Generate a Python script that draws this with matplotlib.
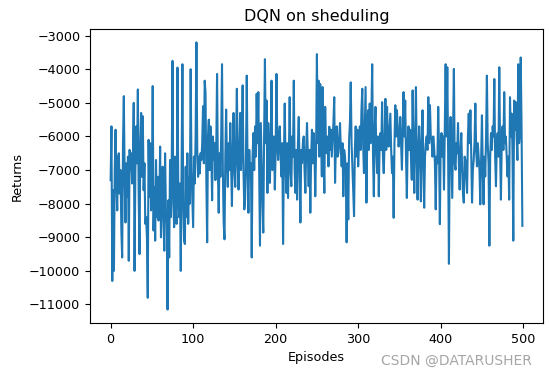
import numpy as np
import matplotlib
matplotlib.use('Agg')
import matplotlib.pyplot as plt

# retornos por episódio (em centenas)
returns_000_099 = [
    -73, -57, -103, -76, -100, -70, -58, -74, -82, -66,
    -65, -77, -70, -88, -96, -62, -48, -72, -85.6, -68,
    -78, -66, -97, -64, -70, -65, -74, -66, -50, -100,
    -70, -57, -68, -46, -77, -95, -62, -53, -72, -54,
    -76, -68, -86, -84, -90, -108, -61, -78, -62, -82,
    -76, -45, -88, -75, -91, -67, -84, -72, -85, -80,
    -63, -90, -78, -69, -84, -94, -65, -82, -86, -111.5,
    -79, -96, -67, -84, -70, -37.5, -80, -87, -66, -82,
    -86, -39.5, -76, -84, -74, -100, -70, -38.5, -80, -91,
    -92, -69, -84, -65, -86, -72, -80, -40, -70, -78,
]
returns_100_199 = [
    -87, -66, -74, -60, -32, -64, -72, -66, -71, -65,
    -67, -62, -51, -68, -43.4, -47, -73, -91.5, -60, -55,
    -70, -57, -64, -79, -60, -67, -62, -73, -64, -41.4,
    -70, -82.7, -65, -72, -60, -38.5, -70, -85.6, -90.6, -66,
    -52, -68, -75, -62, -70, -56, -68, -80.7, -64, -53,
    -70, -75, -62, -45.8, -68, -75.8, -64, -53, -70, -62,
    -44.8, -70, -81.7, -78.8, -66, -41.9, -70, -82.7, -64, -72,
    -68, -96, -66, -59, -70, -57, -66, -47.3, -62, -46.8,
    -70, -92.5, -56, -68, -79.7, -88.6, -60, -37, -62, -49.3,
    -76.8, -56, -64, -73.8, -62, -43.4, -70, -66, -60, -75.8,
]
returns_200_299 = [
    -64, -41.4, -62, -67, -60, -57, -66, -71.9, -62, -92,
    -66, -50.2, -68, -76.8, -62, -78.3, -66, -48.3, -70, -74.8,
    -60, -66, -43.4, -70, -76.8, -64, -78.8, -62, -54.2, -70,
    -85.6, -64, -67.9, -62, -60, -70, -76.8, -64, -56, -66,
    -74.8, -64, -82.7, -66, -58, -68, -59, -64, -77.8, -64,
    -35.5, -62, -43.4, -66, -44.4, -60, -71.9, -45.3, -64, -76.8,
    -51.2, -62, -65, -60, -68.9, -57.1, -64, -58, -66, -61,
    -56, -48.3, -73.8, -62, -57, -66, -65, -60, -56, -64,
    -68.9, -62, -77.8, -64, -66, -70, -91.5, -68, -84.7, -61,
    -56, -43.9, -62, -68.9, -76, -83.7, -64, -57, -66, -58,
]
returns_300_399 = [
    -68.9, -62, -57, -64, -52, -45.8, -62, -70.9, -58, -45.3,
    -79.7, -60, -52.2, -64, -50.2, -62, -54, -38.5, -66, -77.8,
    -58, -51.2, -64, -70.9, -60, -77.8, -62, -59, -64, -49.8,
    -66, -70.9, -62, -48.8, -64, -51.2, -60, -63, -58, -53.2,
    -64, -70.9, -66, -84.2, -62, -50.7, -60, -52.2, -58, -63,
    -60, -54.2, -62, -69.9, -58, -46.8, -60, -49.3, -66, -78.3,
    -62, -57, -64, -58, -66, -72.9, -46.3, -64, -76.8, -60,
    -45.3, -66, -78.8, -64, -57, -66, -79.3, -62, -52.2, -68,
    -81.2, -66, -62, -60, -64, -48.3, -62, -50.7, -60, -61,
    -66, -60, -63, -68, -81.7, -66, -68, -51.2, -64, -86.1,
]
returns_400_499 = [
    -62, -59, -66, -60, -75.8, -58, -38.5, -60, -39.4, -64,
    -97.9, -62, -54.2, -66, -78.3, -58, -39.9, -68, -69.9, -62,
    -65, -56, -68, -75.8, -64, -59, -70, -76.8, -79.7, -66,
    -67, -72, -76.8, -60, -53.2, -62, -52.2, -65, -79.7, -70,
    -67, -62, -50.2, -64, -68.9, -62, -66, -70, -80.2, -66,
    -53.7, -70, -80.2, -66, -71.9, -60, -41.9, -62, -67.9, -92.5,
    -66, -59, -64, -57, -60, -42.9, -66, -74.8, -62, -59,
    -66, -39.4, -64, -78.8, -62, -57, -64, -46.8, -62, -60,
    -66, -71.9, -66, -78.8, -48.3, -60, -53.2, -64, -91, -49.3,
    -58, -49.8, -60, -67, -38.5, -62, -59, -36.5, -57, -86.6,
]

title = 'DQN on sheduling'
x_label = 'Episodes'
y_label = 'Returns'
watermark = 'CSDN @DATARUSHER'


def plot_returns():
    returns = np.array(returns_000_099 + returns_100_199 + returns_200_299
                       + returns_300_399 + returns_400_499) * 100
    episodes = np.arange(len(returns))

    fig = plt.figure(figsize=(5.49, 3.72), dpi=100)
    fig.subplots_adjust(left=0.164, right=0.989, bottom=0.132, top=0.922)
    ax = fig.add_subplot(111)

    ax.plot(episodes, returns, color='#1f77b4', linewidth=1.5)

    ax.set_title(title, fontsize=11.5)
    ax.set_xlabel(x_label, fontsize=9.2)
    ax.set_ylabel(y_label, fontsize=9.2)
    ax.set_xticks([0, 100, 200, 300, 400, 500])
    ax.tick_params(labelsize=9.2)

    fig.text(0.969, 0.03, watermark, ha='right', va='center',
             fontsize=10, color='#a6a6a6')

    fig.savefig('out.png', dpi=100)


plot_returns()
